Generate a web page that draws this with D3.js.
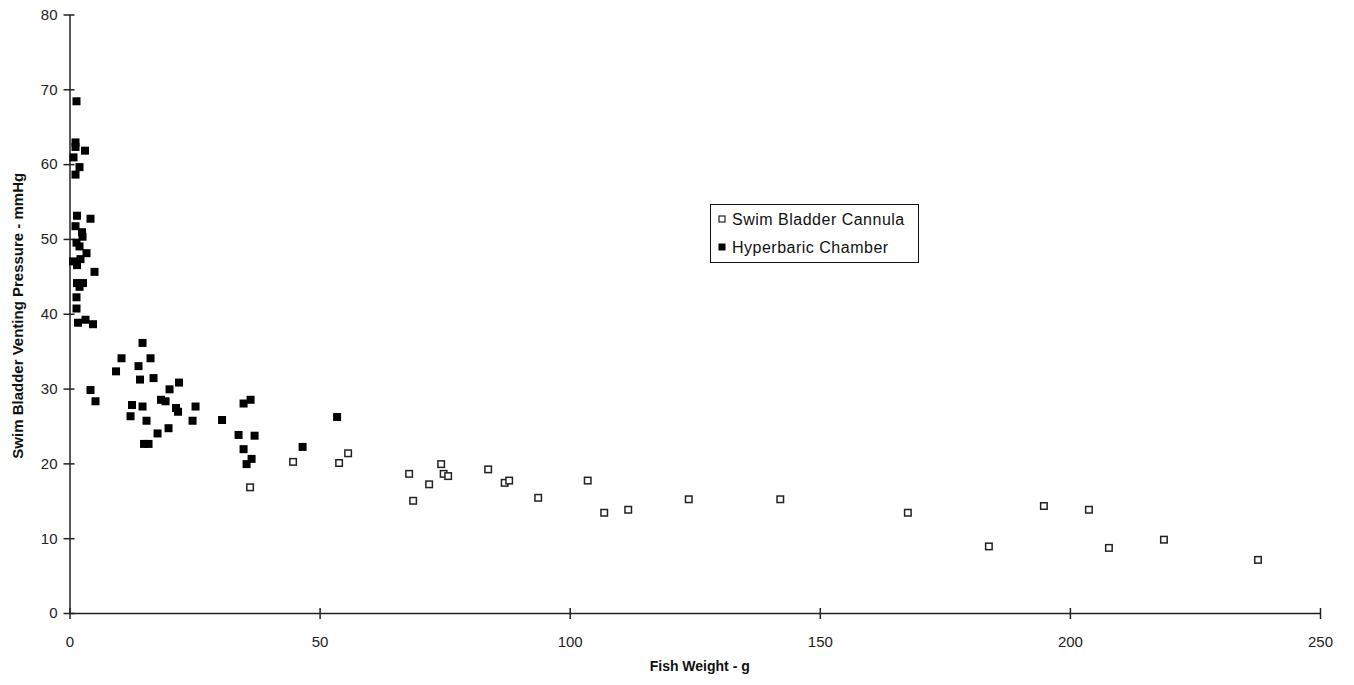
<!DOCTYPE html>
<html>
<head>
<meta charset="utf-8">
<script src="https://cdn.jsdelivr.net/npm/d3@7/dist/d3.min.js"></script>
<style>
  html, body { margin: 0; padding: 0; background: #fff; }
  svg { display: block; }
  .tick text { font-family: "Liberation Sans", Arial, sans-serif; font-size: 15px; fill: #222; }
</style>
</head>
<body>
<svg id="chart" width="1354" height="685"></svg>
<script>
// Swim Bladder Cannula measurements: fish weight (g) and venting pressure (mmHg)
const cannulaWeight = [36.1, 44.7, 53.9, 55.7, 67.9, 68.7, 71.9, 74.3, 74.8, 75.7, 83.7, 87.0, 87.9, 93.7,
  103.6, 106.9, 111.7, 123.8, 142.1, 167.6, 183.8, 194.8, 203.8, 207.8, 218.8, 237.6];
const cannulaPressure = [16.8, 20.2, 20.05, 21.35, 18.6, 15.0, 17.2, 19.9, 18.6, 18.3, 19.2, 17.4, 17.7, 15.4,
  17.7, 13.4, 13.8, 15.2, 15.2, 13.4, 8.9, 14.3, 13.8, 8.7, 9.8, 7.1];

// Hyperbaric Chamber measurements
const chamberWeight = [1.4, 1.2, 1.2, 3.1, 0.8, 2.0, 1.2,
  1.5, 4.2, 1.2, 2.5, 2.6, 1.4, 2.0, 3.4, 2.2, 0.7, 1.5, 5.0, 1.5, 2.7, 2.0, 1.4, 1.4, 1.7, 3.2, 4.7,
  14.6, 10.4, 16.2, 13.8, 9.3, 14.1, 16.8, 21.9, 20.0, 4.2, 5.2, 18.3, 19.2, 12.5, 14.6, 21.3, 21.7,
  25.2, 12.2, 15.4, 24.6, 19.8, 17.6, 14.9, 15.8,
  30.5, 34.8, 36.2, 33.8, 37.0, 34.8, 36.4, 35.4, 46.6, 53.5];
const chamberPressure = [68.4, 62.9, 62.3, 61.8, 60.9, 59.6, 58.6,
  53.1, 52.7, 51.7, 50.9, 50.3, 49.5, 49.0, 48.1, 47.3, 47.0, 46.5, 45.6, 44.1, 44.1, 43.6, 42.2, 40.7, 38.8, 39.2, 38.6,
  36.1, 34.05, 34.05, 33.0, 32.3, 31.2, 31.4, 30.8, 29.9, 29.8, 28.3, 28.5, 28.3, 27.8, 27.6, 27.4, 26.9,
  27.6, 26.3, 25.7, 25.7, 24.7, 24.0, 22.6, 22.6,
  25.8, 28.0, 28.5, 23.8, 23.7, 21.9, 20.6, 19.9, 22.2, 26.2];

const xTicks = [0, 50, 100, 150, 200, 250];
const yTicks = [0, 10, 20, 30, 40, 50, 60, 70, 80];
const seriesNames = ["Swim Bladder Cannula", "Hyperbaric Chamber"];

const svg = d3.select("#chart");
const plotLeft = 69.5, plotRight = 1320, plotTop = 14.5, plotBottom = 613;

const x = d3.scaleLinear().domain([0, 250]).range([plotLeft, plotRight]);
const y = d3.scaleLinear().domain([0, 80]).range([plotBottom, plotTop]);

const axisColor = "#222";

// Axes with ticks crossing the axis line
const yAxis = svg.append("g").attr("transform", `translate(${plotLeft},0)`)
  .call(d3.axisLeft(y).tickValues(yTicks).tickSize(6).tickSizeOuter(0).tickPadding(6));
yAxis.selectAll(".tick line").attr("x2", 5).attr("x1", -6).attr("stroke", axisColor).attr("stroke-width", 1.5);
yAxis.select(".domain").attr("stroke", axisColor).attr("stroke-width", 1.5);

const xAxis = svg.append("g").attr("transform", `translate(0,${plotBottom})`)
  .call(d3.axisBottom(x).tickValues(xTicks).tickSize(6).tickSizeOuter(0).tickPadding(17));
xAxis.selectAll(".tick line").attr("y1", -5).attr("y2", 6).attr("stroke", axisColor).attr("stroke-width", 1.5);
xAxis.select(".domain").attr("stroke", axisColor).attr("stroke-width", 1.5);

// Axis titles
const titleFont = "'Liberation Sans', Arial, sans-serif";
svg.append("text")
  .attr("x", (plotLeft + plotRight) / 2 + 5).attr("y", 671)
  .attr("text-anchor", "middle")
  .attr("font-family", titleFont).attr("font-weight", "bold").attr("font-size", 14)
  .attr("fill", "#111")
  .text("Fish Weight - g");
svg.append("text")
  .attr("transform", `translate(23,${(plotTop + plotBottom) / 2 + 2}) rotate(-90)`)
  .attr("text-anchor", "middle")
  .attr("font-family", titleFont).attr("font-weight", "bold").attr("font-size", 15)
  .attr("fill", "#111")
  .text("Swim Bladder Venting Pressure - mmHg");

// Markers
const size = 8;
const cannula = cannulaWeight.map((w, i) => ({ w, p: cannulaPressure[i] }));
const chamber = chamberWeight.map((w, i) => ({ w, p: chamberPressure[i] }));

svg.append("g").selectAll("rect").data(chamber).join("rect")
  .attr("x", d => x(d.w) - size / 2).attr("y", d => y(d.p) - size / 2)
  .attr("width", size).attr("height", size)
  .attr("fill", "#000");

svg.append("g").selectAll("rect").data(cannula).join("rect")
  .attr("x", d => x(d.w) - size / 2 + 0.75).attr("y", d => y(d.p) - size / 2 + 0.75)
  .attr("width", size - 1.5).attr("height", size - 1.5)
  .attr("fill", "#fff").attr("stroke", "#222").attr("stroke-width", 1.5);

// Legend
const legend = svg.append("g").attr("transform", "translate(710,204)");
legend.append("rect").attr("x", 0.5).attr("y", 0.5).attr("width", 208).attr("height", 58)
  .attr("fill", "#fff").attr("stroke", "#111").attr("stroke-width", 1);
const legendFont = "'Liberation Sans', Arial, sans-serif";
seriesNames.forEach((name, i) => {
  const cy = 15 + i * 28;
  if (i === 0) {
    legend.append("rect").attr("x", 9).attr("y", cy - 3).attr("width", 6).attr("height", 6)
      .attr("fill", "#fff").attr("stroke", "#222").attr("stroke-width", 1.2);
  } else {
    legend.append("rect").attr("x", 8.5).attr("y", cy - 3.5).attr("width", 7).attr("height", 7)
      .attr("fill", "#000");
  }
  legend.append("text").attr("x", 22).attr("y", cy + 6)
    .attr("font-family", legendFont).attr("font-size", 16).attr("letter-spacing", 0.5)
    .attr("fill", "#111")
    .text(name);
});
</script>
</body>
</html>
